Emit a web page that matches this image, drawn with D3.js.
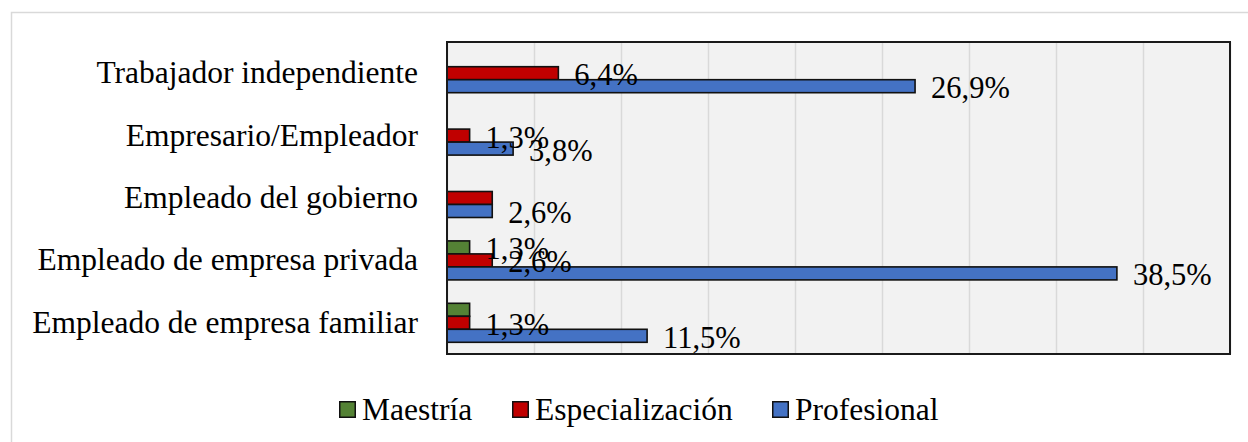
<!DOCTYPE html>
<html>
<head>
<meta charset="utf-8">
<script src="https://cdn.jsdelivr.net/npm/d3@7"></script>
<style>
  html, body { margin: 0; padding: 0; background: #fff; }
  svg text { font-family: "Liberation Serif", "Times New Roman", Times, serif !important; }
</style>
</head>
<body>
<svg id="chart" width="1248" height="442"></svg>
<script>
// ---- data ----
const categories = [
  "Trabajador independiente",
  "Empresario/Empleador",
  "Empleado del gobierno",
  "Empleado de empresa privada",
  "Empleado de empresa familiar"
];
const seriesNames = ["Maestría", "Especialización", "Profesional"];
const maestria        = [0, 0, 0, 1.3, 1.3];
const especializacion = [6.4, 1.3, 2.6, 2.6, 1.3];
const profesional     = [26.9, 3.8, 2.6, 38.5, 11.5];
const gridTicks = [0, 5, 10, 15, 20, 25, 30, 35, 40, 45];
// labels not shown in the original (duplicates)
const hiddenLabels = [
  ["Empleado del gobierno", "Especialización"],
  ["Empleado de empresa familiar", "Maestría"]
];

const seriesValues = [maestria, especializacion, profesional];
const colors = ["#548235", "#C00000", "#4472C4"];

// ---- layout ----
const svg = d3.select("#chart");
const plot = { left: 447, top: 42, right: 1230, bottom: 354 };
const w = plot.right - plot.left, h = plot.bottom - plot.top;

// outer chart border
svg.append("rect").attr("x", 11.5).attr("y", 12.5).attr("width", 1260).attr("height", 460)
  .attr("fill", "#fff").attr("stroke", "#d9d9d9").attr("stroke-width", 1.5);

const x = d3.scaleLinear().domain([0, 45]).range([0, w]);
const y = d3.scaleBand().domain(categories).range([0, h]).paddingInner(0.375).paddingOuter(0.1875);
const ys = d3.scaleBand().domain(seriesNames).range([0, y.bandwidth()]);

const g = svg.append("g").attr("transform", `translate(${plot.left},${plot.top})`);

g.append("rect").attr("width", w).attr("height", h).attr("fill", "#f2f2f2");

// gridlines
const grid = g.append("g").attr("transform", `translate(0,${h})`)
  .call(d3.axisBottom(x).tickValues(gridTicks).tickSize(-h).tickFormat(""));
grid.select(".domain").remove();
grid.selectAll(".tick line").attr("stroke", "#d9d9d9").attr("stroke-width", 1.5);

// bars
const rows = [];
seriesNames.forEach((s, si) => {
  categories.forEach((c, ci) => rows.push({ s, si, c, v: seriesValues[si][ci] }));
});

g.selectAll("rect.bar").data(rows.filter(d => d.v > 0)).join("rect")
  .attr("class", "bar")
  .attr("x", 0)
  .attr("y", d => y(d.c) + ys(d.s))
  .attr("width", d => x(d.v))
  .attr("height", ys.bandwidth())
  .attr("fill", d => colors[d.si])
  .attr("stroke", "#111")
  .attr("stroke-width", 1.6);

// value labels
const fmt = v => v.toFixed(1).replace(".", ",") + "%";
const isHidden = d => hiddenLabels.some(([c, s]) => c === d.c && s === d.s);
g.selectAll("text.val").data(rows.filter(d => d.v > 0 && !isHidden(d))).join("text")
  .attr("class", "val")
  .attr("x", d => x(d.v) + 16)
  .attr("y", d => y(d.c) + ys(d.s) + ys.bandwidth() / 2 + 12)
  .attr("font-size", 30.5)
  .attr("fill", "#000")
  .text(d => fmt(d.v));

// category axis
const yAxis = g.append("g").call(d3.axisLeft(y).tickSize(0).tickPadding(29));
yAxis.select(".domain").remove();
yAxis.selectAll(".tick text")
  .attr("font-size", 31.5)
  .attr("fill", "#000")
  .attr("dy", 10);

// plot border
g.append("rect").attr("width", w).attr("height", h).attr("fill", "none")
  .attr("stroke", "#1a1a1a").attr("stroke-width", 2);

// legend
const legendX = [339, 512, 772];
const legend = svg.append("g");
seriesNames.forEach((s, i) => {
  const lg = legend.append("g").attr("transform", `translate(${legendX[i]},401)`);
  lg.append("rect").attr("x", 0.75).attr("y", 0.75).attr("width", 15.5).attr("height", 15.5)
    .attr("fill", colors[i]).attr("stroke", "#111").attr("stroke-width", 1.5);
  lg.append("text").attr("x", 23).attr("y", 19).attr("font-size", 31.5).attr("fill", "#000").text(s);
});
</script>
</body>
</html>
